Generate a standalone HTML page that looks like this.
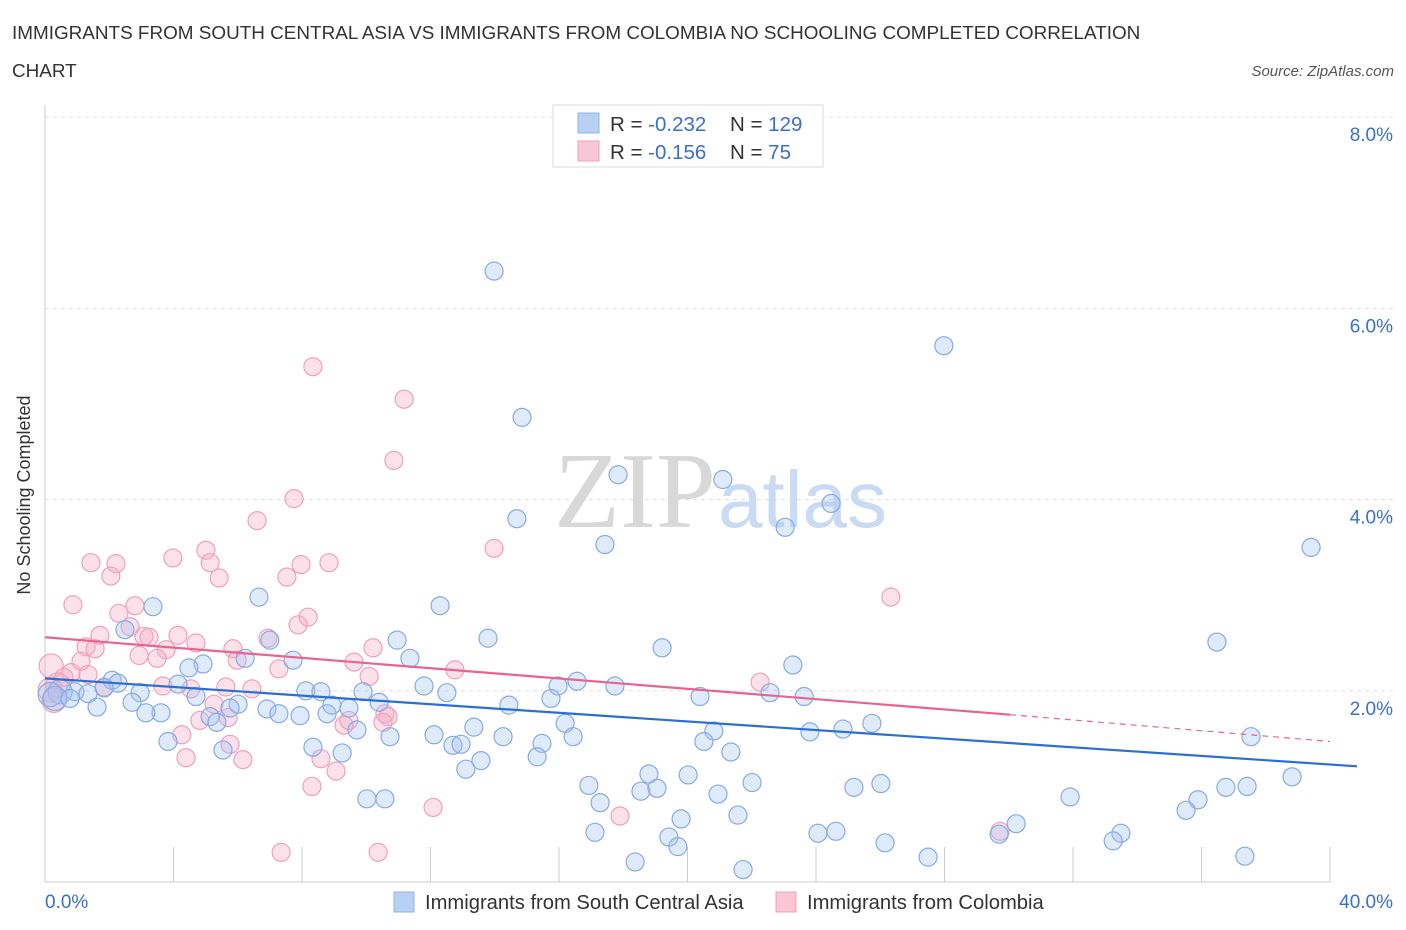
<!DOCTYPE html>
<html><head><meta charset="utf-8"><style>
body{margin:0;background:#fff;font-family:"Liberation Sans",sans-serif;}
svg{display:block}
</style></head><body>
<svg id="chart" width="1406" height="930" xmlns="http://www.w3.org/2000/svg">
<text x="12" y="39" font-size="18.9" fill="#333">IMMIGRANTS FROM SOUTH CENTRAL ASIA VS IMMIGRANTS FROM COLOMBIA NO SCHOOLING COMPLETED CORRELATION</text>
<text x="12" y="77" font-size="18.9" fill="#333">CHART</text>
<text x="1394" y="76" font-size="15" fill="#555" font-style="italic" text-anchor="end">Source: ZipAtlas.com</text>
<g id="grid"></g>
<text x="716" y="527" font-size="108" font-family="Liberation Serif,serif" fill="#d8d8d8" text-anchor="end">ZIP</text>
<text x="718" y="527" font-size="80" fill="#c9daf3">atlas</text>
<g id="marks"></g>
<text x="30" y="495" font-size="18" fill="#333" text-anchor="middle" transform="rotate(-90 30 495)">No Schooling Completed</text>
<g>
<rect x="553" y="105" width="270" height="62" fill="#fff" stroke="#ddd"/>
<rect x="578" y="113" width="21" height="20" fill="#b8d0f3" stroke="#8fb4ea"/>
<rect x="578" y="141" width="21" height="20" fill="#f9c6d5" stroke="#f0a0bb"/>
<text x="610" y="131" font-size="20.5" fill="#333">R = <tspan fill="#3a6fd0">-0.232</tspan></text>
<text x="730" y="131" font-size="20.5" fill="#333">N = <tspan fill="#3a6fd0">129</tspan></text>
<text x="610" y="159" font-size="20.5" fill="#333">R = <tspan fill="#3a6fd0"> -0.156</tspan></text>
<text x="730" y="159" font-size="20.5" fill="#333">N = <tspan fill="#3a6fd0">  75</tspan></text>
</g>
<g>
<rect x="394" y="892" width="20" height="20" fill="#b8d0f3" stroke="#8fb4ea"/>
<text x="425" y="909" font-size="20.2" fill="#333">Immigrants from South Central Asia</text>
<rect x="776" y="892" width="20" height="20" fill="#f9c6d5" stroke="#f0a0bb"/>
<text x="807" y="909" font-size="20.2" fill="#333">Immigrants from Colombia</text>
</g>
</svg>
<script>
const xTicks=[0,4,8,12,16,20,24,28,32,36,40];
const yTicks=[2,4,6,8];
const yTickLabels=["2.0%","4.0%","6.0%","8.0%"];
const xEndLabels=["0.0%","40.0%"];
const blueX=[13.98,27.98,14.85,17.84,21.1,14.69,23.04,24.47,39.41,17.43,6.66,3.36,12.3,2.49,7.0,10.96,13.79,36.48,19.21,7.72,11.36,6.23,4.92,4.48,23.28,16.56,2.09,2.27,4.14,1.84,17.74,15.97,11.8,20.39,22.57,23.63,0.93,1.34,0.47,0.16,0.31,0.78,2.96,4.7,8.12,8.59,9.9,12.51,15.75,2.71,6.01,6.91,1.62,3.61,3.14,5.14,5.76,7.28,7.94,8.78,9.46,8.93,10.4,14.44,5.35,9.71,10.74,13.35,16.19,20.82,23.81,24.84,25.74,3.83,37.54,12.11,12.7,12.95,14.26,15.47,16.44,8.34,9.25,20.51,21.35,5.54,15.32,13.57,13.1,18.8,20.02,22.01,16.93,18.55,19.05,25.18,26.02,38.82,36.76,37.42,31.91,20.95,17.28,35.89,35.52,10.02,10.58,21.57,19.8,30.23,17.12,19.42,24.06,24.62,33.49,33.25,26.15,19.7,18.37,21.73,27.49,37.35,29.7];
const blueY=[6.39,5.61,4.86,4.26,4.21,3.80,3.71,3.96,3.50,3.53,2.98,2.88,2.89,2.64,2.53,2.53,2.55,2.51,2.45,2.32,2.34,2.34,2.28,2.24,2.27,2.10,2.11,2.08,2.07,2.03,2.05,2.05,2.05,1.94,1.98,1.94,1.99,1.97,1.99,1.96,1.92,1.92,1.98,1.94,2.0,1.99,1.99,1.98,1.92,1.88,1.86,1.81,1.83,1.77,1.77,1.73,1.82,1.76,1.74,1.76,1.82,1.85,1.88,1.85,1.67,1.59,1.52,1.62,1.66,1.58,1.57,1.60,1.66,1.47,1.52,1.54,1.43,1.44,1.52,1.45,1.52,1.41,1.35,1.47,1.36,1.38,1.31,1.27,1.18,1.13,1.12,1.04,1.01,0.95,0.98,0.99,1.03,1.10,0.99,1.00,0.89,0.92,0.83,0.86,0.75,0.87,0.87,0.70,0.66,0.61,0.52,0.47,0.51,0.53,0.51,0.43,0.41,0.37,0.21,0.13,0.26,0.27,0.50];
const pinkX=[8.34,11.18,10.86,7.75,6.6,13.98,1.43,2.21,3.98,5.01,5.14,7.97,8.84,2.05,5.42,7.53,26.33,0.87,2.8,2.3,8.19,7.88,2.65,1.71,4.14,3.08,3.24,6.94,4.7,10.21,1.28,1.56,3.77,5.85,2.93,3.49,9.62,5.98,1.12,12.76,10.09,7.28,0.19,0.81,0.59,1.34,22.26,0.4,1.84,5.63,4.54,3.67,6.44,5.26,10.58,5.7,10.68,9.31,9.46,10.52,4.82,4.26,5.76,4.39,6.16,8.59,9.06,8.31,12.08,17.9,29.73,7.35,10.37,0.16,0.28];
const pinkY=[5.39,5.05,4.41,4.01,3.78,3.49,3.34,3.33,3.39,3.47,3.34,3.32,3.34,3.20,3.18,3.19,2.98,2.90,2.89,2.81,2.77,2.69,2.67,2.58,2.58,2.57,2.56,2.55,2.50,2.45,2.46,2.44,2.43,2.44,2.37,2.34,2.30,2.32,2.31,2.22,2.15,2.23,2.26,2.19,2.14,2.17,2.09,2.06,2.04,2.04,2.02,2.05,2.02,1.86,1.76,1.72,1.73,1.64,1.69,1.67,1.69,1.54,1.44,1.30,1.28,1.29,1.16,1.00,0.78,0.69,0.53,0.31,0.31,2.01,1.90];
const blueTrend=[[0,2.13],[40.84,1.21]];
const pinkTrend=[[0,2.56],[30.04,1.75],[40,1.47]];
const X0=45,X1=1330,Y0=882,YPER=95.6;
const sx=v=>X0+(X1-X0)*v/40;
const sy=v=>Y0-v*YPER;
const NS="http://www.w3.org/2000/svg";
function mk(tag,attrs,parent){const e=document.createElementNS(NS,tag);for(const k in attrs)e.setAttribute(k,attrs[k]);parent.appendChild(e);return e;}
const grid=document.getElementById('grid'),marks=document.getElementById('marks');
let ax=mk('line',{x1:X0,y1:105,x2:X0,y2:Y0,stroke:'#ccc'},grid);


let bx=mk('line',{x1:X0,y1:Y0,x2:X1,y2:Y0,stroke:'#ccc'},grid);


yTicks.forEach((t,i)=>{
 const g=mk('line',{x1:X0,y1:sy(t),x2:1395,y2:sy(t),stroke:'#ddd','stroke-dasharray':'4,4'},grid);
 
 
 const tx=mk('text',{x:1393,y:sy(t)+24,'font-size':19,fill:'#3a6fd0','text-anchor':'end'},grid);tx.textContent=yTickLabels[i];
 
 
});
xTicks.forEach(t=>{
 const l=mk('line',{x1:sx(t),y1:Y0,x2:sx(t),y2:Y0-35,stroke:'#ccc'},grid);
 
 
});
const xl0=mk('text',{x:45,y:908,'font-size':19,fill:'#3a6fd0'},grid);xl0.textContent=xEndLabels[0];


const xl1=mk('text',{x:1393,y:908,'font-size':19,fill:'#3a6fd0','text-anchor':'end'},grid);xl1.textContent=xEndLabels[1];


function dots(xs,ys,fill,stroke,name){xs.forEach((x,i)=>{
 const r=(x<0.5)?12:9;
 const c=mk('circle',{cx:sx(x),cy:sy(ys[i]),r:r,fill:fill,stroke:stroke,'stroke-width':1.2},marks);
 
 
});}
dots(pinkX,pinkY,'rgba(246,170,196,0.35)','#f0a0bb','point-colombia');
dots(blueX,blueY,'rgba(164,194,244,0.35)','#86abe6','point-south-central-asia');
const bl=mk('line',{x1:sx(blueTrend[0][0]),y1:sy(blueTrend[0][1]),x2:sx(blueTrend[1][0]),y2:sy(blueTrend[1][1]),stroke:'#2a6fd8','stroke-width':2.2},marks);


const pl=mk('line',{x1:sx(pinkTrend[0][0]),y1:sy(pinkTrend[0][1]),x2:sx(pinkTrend[1][0]),y2:sy(pinkTrend[1][1]),stroke:'#e8648e','stroke-width':2.2},marks);


const pd=mk('line',{x1:sx(pinkTrend[1][0]),y1:sy(pinkTrend[1][1]),x2:sx(pinkTrend[2][0]),y2:sy(pinkTrend[2][1]),stroke:'#e8648e','stroke-width':1.2,'stroke-dasharray':'6,5'},marks);


</script>
</body></html>
